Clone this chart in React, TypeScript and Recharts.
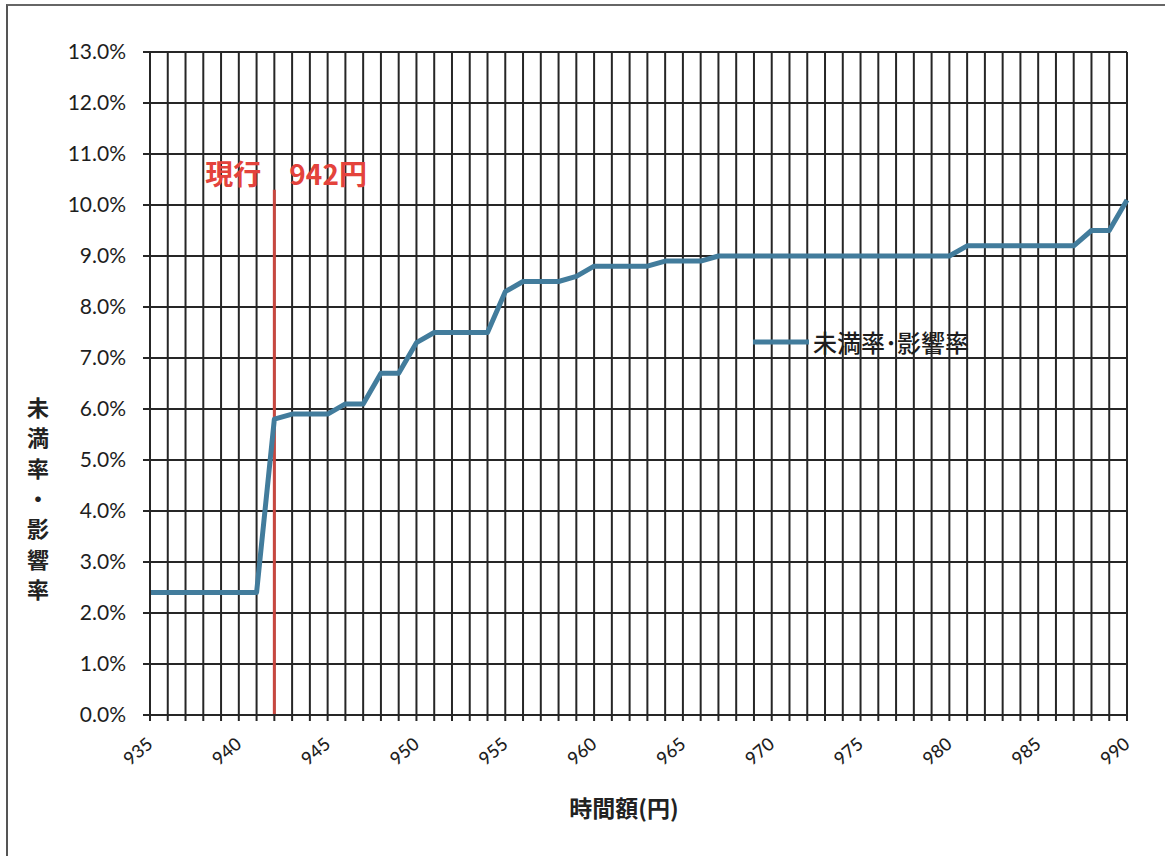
import React from "react";
import {
  LineChart,
  Line,
  XAxis,
  YAxis,
  CartesianGrid,
  Legend,
  ReferenceLine,
  Label,
} from "recharts";

// 時間額 (yen), one point per yen
const wages = [
  935, 936, 937, 938, 939, 940, 941, 942, 943, 944, 945, 946, 947, 948, 949, 950,
  951, 952, 953, 954, 955, 956, 957, 958, 959, 960, 961, 962, 963, 964, 965, 966,
  967, 968, 969, 970, 971, 972, 973, 974, 975, 976, 977, 978, 979, 980, 981, 982,
  983, 984, 985, 986, 987, 988, 989, 990,
];

// 未満率・影響率 (%)
const rates = [
  2.4, 2.4, 2.4, 2.4, 2.4, 2.4, 2.4,
  5.8, 5.9, 5.9, 5.9, 6.1, 6.1, 6.7, 6.7, 7.3,
  7.5, 7.5, 7.5, 7.5, 8.3, 8.5, 8.5, 8.5, 8.6, 8.8,
  8.8, 8.8, 8.8, 8.9, 8.9, 8.9, 9.0, 9.0, 9.0, 9.0,
  9.0, 9.0, 9.0, 9.0, 9.0, 9.0, 9.0, 9.0, 9.0, 9.0,
  9.2, 9.2, 9.2, 9.2, 9.2, 9.2, 9.2, 9.5, 9.5, 10.1,
];

const xLabels = [935, 940, 945, 950, 955, 960, 965, 970, 975, 980, 985, 990];
const yTicks = [0, 1, 2, 3, 4, 5, 6, 7, 8, 9, 10, 11, 12, 13];

const currentWage = 942;
const currentLabel = "現行　942円";
const seriesName = "未満率･影響率";
const yTitle = ["未", "満", "率", "・", "影", "響", "率"];
const xTitle = "時間額(円)";

const data = wages.map((w, i) => ({ wage: w, rate: rates[i] }));

const JP = "'Noto Sans CJK JP', 'Noto Sans', sans-serif";
const NUM = "Lato, 'Open Sans', sans-serif";
const LINE_COLOR = "#427c9c";
const GRID = "#262626";

const XTick = (props: any) => {
  const { x, y, payload } = props;
  if (!xLabels.includes(payload.value)) return null;
  return (
    <g transform={`translate(${x + 4},${y + 25})`}>
      <text
        x={0}
        y={0}
        textAnchor="end"
        transform="rotate(-40)"
        fontFamily={NUM}
        fontSize={18}
        fontWeight={500}
        fill="#1e1e1e"
      >
        {payload.value}
      </text>
    </g>
  );
};

const YTitle = () => (
  <text fontFamily={JP} fontSize={22} fontWeight={700} fill="#222" textAnchor="middle">
    {yTitle.map((c, i) => (
      <tspan key={i} x={38} y={416 + i * 30.3}>
        {c}
      </tspan>
    ))}
  </text>
);

const XTitle = () => (
  <text x={624} y={817} textAnchor="middle" fontFamily={JP} fontSize={23} fontWeight={700} fill="#222">
    {xTitle}
  </text>
);

const CurrentLabel = (props: any) => {
  const vb = props.viewBox || {};
  return (
    <text
      x={vb.x - 69}
      y={vb.y - 5}
      fontFamily={JP}
      fontSize={28}
      fontWeight={700}
      fill="#e4433c"
    >
      {currentLabel}
    </text>
  );
};

const LegendBox = () => (
  <div style={{ display: "flex", alignItems: "center" }}>
    <svg width={58} height={10}>
      <line x1={1} y1={5} x2={57} y2={5} stroke={LINE_COLOR} strokeWidth={5} />
    </svg>
    <span style={{ fontFamily: JP, fontSize: 24, fontWeight: 500, color: "#1e1e1e", marginLeft: 3 }}>
      {seriesName}
    </span>
  </div>
);

const App = () => {
  return (
    <div style={{ position: "relative", width: 1165, height: 856, background: "#fff" }}>
      <style>{"body{margin:0;}"}</style>
      <div
        style={{
          position: "absolute",
          left: 6,
          top: 4,
          width: 1165,
          height: 860,
          borderLeft: "2px solid #555",
          borderTop: "2px solid #666",
        }}
      />
      <LineChart
        width={1165}
        height={856}
        data={data}
        margin={{ top: 52, right: 38, left: 0, bottom: 0 }}
      >
        <CartesianGrid stroke={GRID} strokeWidth={2} />
        <XAxis
          dataKey="wage"
          type="number"
          domain={[935, 990]}
          ticks={wages}
          interval={0}
          height={141}
          tick={<XTick />}
          tickSize={6}
          tickMargin={0}
          tickLine={{ stroke: GRID, strokeWidth: 2 }}
          axisLine={{ stroke: GRID, strokeWidth: 2 }}
        >
          <Label content={<XTitle />} />
        </XAxis>
        <YAxis
          type="number"
          domain={[0, 13]}
          ticks={yTicks}
          interval={0}
          width={150}
          tickFormatter={(v: number) => v.toFixed(1) + "%"}
          tick={{ fontFamily: NUM, fontSize: 21, fill: "#1e1e1e" }}
          tickSize={7}
          tickMargin={17}
          tickLine={{ stroke: GRID, strokeWidth: 2 }}
          axisLine={{ stroke: GRID, strokeWidth: 2 }}
        >
          <Label content={<YTitle />} />
        </YAxis>
        <ReferenceLine
          segment={[
            { x: currentWage, y: 0 },
            { x: currentWage, y: 10.3 },
          ]}
          stroke="#c8473f"
          strokeWidth={3}
          label={<CurrentLabel />}
        />
        <Legend
          layout="horizontal"
          verticalAlign="middle"
          align="center"
          wrapperStyle={{ left: 752, top: 324, width: "auto" }}
          content={<LegendBox />}
        />
        <Line
          type="linear"
          dataKey="rate"
          name={seriesName}
          stroke={LINE_COLOR}
          strokeWidth={5}
          strokeLinejoin="round"
          dot={false}
          activeDot={false}
          isAnimationActive={false}
        />
      </LineChart>
    </div>
  );
};

export default App;
